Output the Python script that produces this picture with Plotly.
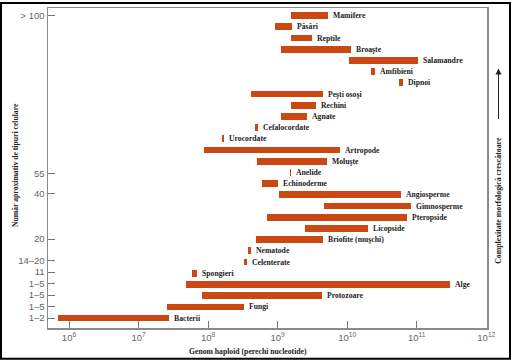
import numpy as np
import plotly.graph_objects as go

# Groups, listed from bottom (row 0) to top
groups = ["Bacterii", "Fungi", "Protozoare", "Alge", "Spongieri", "Celenterate",
          "Nematode", "Briofite (muşchi)", "Licopside", "Pteropside", "Gimnosperme",
          "Angiosperme", "Echinoderme", "Anelide", "Moluşte", "Artropode",
          "Urocordate", "Cefalocordate", "Agnate", "Rechini", "Peşti osoşi",
          "Dipnoi", "Amfibieni", "Salamandre", "Broaşte", "Reptile", "Păsări",
          "Mamifere"]
# haploid genome size range (nucleotide pairs)
genome_min = [7.0e5, 2.55e7, 8.1e7, 4.8e7, 5.8e7, 3.3e8,
              3.8e8, 4.95e8, 2.5e9, 7.0e8, 4.67e9,
              1.03e9, 6.0e8, 1.5e9, 5.1e8, 8.75e7,
              1.61e8, 4.8e8, 1.12e9, 1.55e9, 4.2e8,
              5.6e10, 2.2e10, 1.06e10, 1.13e9, 1.53e9, 9.3e8,
              1.56e9]
genome_max = [2.75e7, 3.33e8, 4.37e9, 3.0e11, 7.0e7, 3.6e8,
              4.16e8, 4.5e9, 2.0e10, 7.2e10, 8.3e10,
              5.98e10, 1.0e9, 1.58e9, 5.04e9, 8.0e9,
              1.72e8, 5.2e8, 2.63e9, 3.58e9, 4.56e9,
              6.25e10, 2.47e10, 1.05e11, 1.14e10, 3.1e9, 1.6e9,
              5.3e9]

# approximate number of cell types (y tick labels)
celltype_pos = [0, 1.05, 2.05, 3.05, 4.1, 5.1, 7.05, 11.1, 12.9, 27]
celltype_text = ["1–2", "1–5", "1–5", "1–5", "11", "14–20", "20", "40", "55", "> 100"]

x_tickvals = [1e6, 1e7, 1e8, 1e9, 1e10, 1e11, 1e12]
x_ticktext = ["10<sup>6</sup>", "10<sup>7</sup>", "10<sup>8</sup>", "10<sup>9</sup>",
              "10<sup>10</sup>", "10<sup>11</sup>", "10<sup>12</sup>"]

W, H = 511, 360
L, R, T, B = 48, 24, 6, 32
PW, PH = W - L - R, H - T - B

rows = list(range(len(groups)))
bar_color = "#CC4812"
serif = "Liberation Serif, Times New Roman, serif"
sans = "Liberation Sans, Arial, sans-serif"

fig = go.Figure()
fig.add_trace(go.Bar(
    y=rows,
    x=[b - a for a, b in zip(genome_min, genome_max)],
    base=genome_min,
    orientation="h",
    width=0.6,
    marker=dict(color=bar_color, line=dict(width=0)),
    hoverinfo="skip",
))

annotations = []
for r, g, e in zip(rows, groups, genome_max):
    annotations.append(dict(
        x=np.log10(e), y=r, xref="x", yref="y", text="<b>%s</b>" % g,
        showarrow=False, xanchor="left", yanchor="middle", xshift=3,
        font=dict(family=serif, size=7.7, color="#222222"),
    ))

def px_to_paper_x(px):
    return (px - L) / PW

def px_to_paper_y(py):
    return (H - B - py) / PH

# axis titles
annotations.append(dict(
    x=px_to_paper_x(15), y=px_to_paper_y(164), xref="paper", yref="paper",
    text="<b>Număr aproximativ de tipuri celulare</b>", textangle=-90,
    showarrow=False, xanchor="center", yanchor="middle",
    font=dict(family=serif, size=7.7, color="#222222"),
))
annotations.append(dict(
    x=px_to_paper_x(248), y=px_to_paper_y(352), xref="paper", yref="paper",
    text="<b>Genom haploid (perechi nucleotide)</b>",
    showarrow=False, xanchor="center", yanchor="middle",
    font=dict(family=serif, size=7.7, color="#222222"),
))
annotations.append(dict(
    x=px_to_paper_x(499), y=px_to_paper_y(200), xref="paper", yref="paper",
    text="<b>Complexitate morfologică crescătoare</b>", textangle=-90,
    showarrow=False, xanchor="center", yanchor="middle",
    font=dict(family=serif, size=7.8, color="#222222"),
))
# upward arrow
annotations.append(dict(
    x=px_to_paper_x(498.5), y=px_to_paper_y(67), xref="paper", yref="paper",
    ax=0, ay=52, axref="pixel", ayref="pixel", text="",
    showarrow=True, arrowhead=2, arrowsize=1.2, arrowwidth=1, arrowcolor="#222222",
))

shapes = [dict(
    type="rect", xref="paper", yref="paper",
    x0=px_to_paper_x(1), x1=px_to_paper_x(510),
    y0=px_to_paper_y(359), y1=px_to_paper_y(1),
    line=dict(color="black", width=2), fillcolor="rgba(0,0,0,0)",
)]

fig.update_layout(
    width=W, height=H,
    margin=dict(l=L, r=R, t=T, b=B),
    paper_bgcolor="white", plot_bgcolor="white",
    showlegend=False,
    bargap=0,
    annotations=annotations,
    shapes=shapes,
    xaxis=dict(
        type="log", range=[5.698, 12.01],
        tickvals=x_tickvals, ticktext=x_ticktext,
        ticks="inside", ticklen=7, tickcolor="#777777", tickwidth=1,
        showline=True, linecolor="#8a8a8a", linewidth=1.5, mirror=True,
        showgrid=False, zeroline=False,
        tickfont=dict(family=sans, size=9.5, color="#666666"),
    ),
    yaxis=dict(
        range=[-0.887, 27.68],
        tickvals=celltype_pos, ticktext=celltype_text,
        ticks="inside", ticklen=7, tickcolor="#777777", tickwidth=1,
        showline=True, linecolor="#8a8a8a", linewidth=1.5, mirror=True,
        showgrid=False, zeroline=False,
        tickfont=dict(family=sans, size=9.5, color="#666666"),
    ),
)

fig.write_html(
    "out.html",
    config={"displayModeBar": False, "staticPlot": True},
    post_script="document.body.style.margin='0';document.body.style.overflow='hidden';",
)
